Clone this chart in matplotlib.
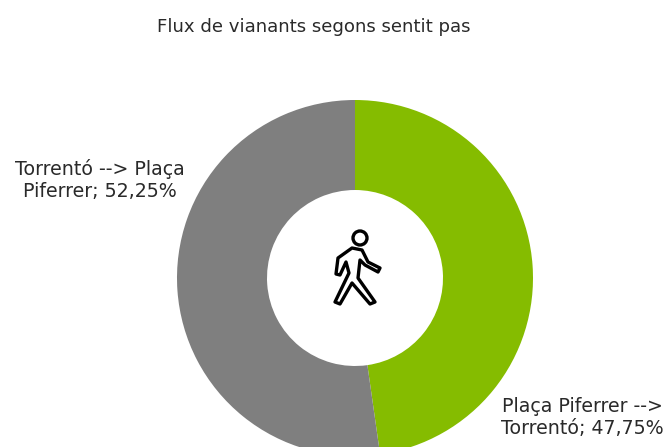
import matplotlib
matplotlib.use("Agg")
import matplotlib.pyplot as plt
from matplotlib.patches import Circle, Polygon

labels = ["Plaça Piferrer -->\nTorrentó; 47,75%", "Torrentó --> Plaça\nPiferrer; 52,25%"]
values = [47.75, 52.25]
colors = ["#85bc00", "#7f7f7f"]
title = "Flux de vianants segons sentit pas"

# outline of the walking figure, in pixels
walker_x = [352, 338, 336, 340, 346, 349, 335, 340, 352, 370, 375, 358, 360, 365, 378, 380, 368, 362]
walker_y = [248, 258, 274, 275, 262, 273, 302, 304, 283, 304, 302, 278, 260, 265, 272, 268, 262, 250]

fig = plt.figure(figsize=(6.69, 4.47), dpi=100)
ax = fig.add_axes([0, 0, 1, 1])

# y axis is inverted below, so this runs clockwise from the top on screen
ax.pie(values, colors=colors, startangle=-90, counterclock=True,
       center=(355, 278), radius=178,
       wedgeprops={"width": 90, "linewidth": 0}, frame=True)

ax.set_xlim(0, 669)
ax.set_ylim(447, 0)
ax.set_aspect("equal")
ax.axis("off")

ax.text(314, 27, title, ha="center", va="center", fontsize=13.1, color="#2a2a2a")
ax.text(100, 180, labels[1], ha="center", va="center", fontsize=13.7, color="#2a2a2a", linespacing=1.2)
ax.text(582, 417, labels[0], ha="center", va="center", fontsize=13.7, color="#2a2a2a", linespacing=1.2)

ax.add_patch(Circle((360, 238), 7, facecolor="white", edgecolor="black", linewidth=2.4))
ax.add_patch(Polygon(list(zip(walker_x, walker_y)), closed=True, facecolor="white",
                     edgecolor="black", linewidth=2.4, joinstyle="round"))

fig.savefig("out.png", dpi=100)
